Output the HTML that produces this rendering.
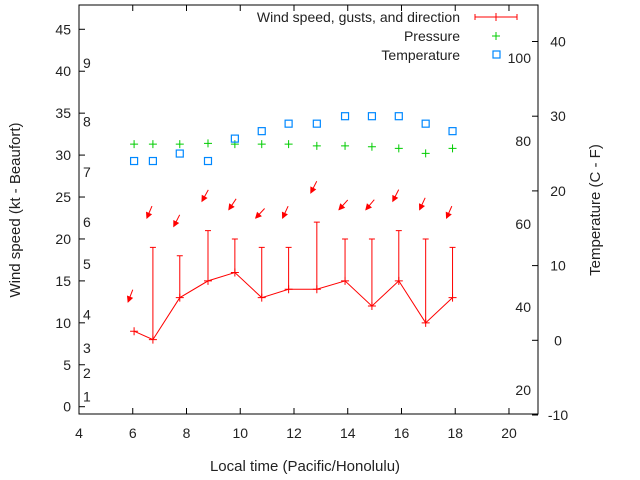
<!DOCTYPE html>
<html><head><meta charset="utf-8"><style>
body{margin:0;background:#fff}
svg{display:block;font-family:"Liberation Sans",sans-serif}
</style></head><body>
<svg id="chart" width="640" height="480" viewBox="0 0 640 480" xmlns="http://www.w3.org/2000/svg"></svg>
<script>
const times=[6.05,6.75,7.75,8.8,9.8,10.8,11.8,12.85,13.9,14.9,15.9,16.9,17.9];
const windSpeed=[9,8,13,15,16,13,14,14,15,12,15,10,13];
const gusts=[null,19,18,21,20,19,19,22,20,20,21,20,19];
const windDir=[21,23,27,29,34,43,25,27,42,40,27,25,24];
const pressure=[31.3,31.3,31.3,31.4,31.3,31.3,31.3,31.1,31.1,31.0,30.8,30.2,30.8];
const tempC=[24,24,25,24,27,28,29,29,30,30,30,29,28];
const xTicks=[4,6,8,10,12,14,16,18,20];
const yTicks=[0,5,10,15,20,25,30,35,40,45];
const y2Ticks=[-10,0,10,20,30,40];
const beaufort=[1,2,3,4,5,6,7,8,9];
const beaufortKt=[1.2,4,7,11,17,22,28,34,41];
const fahrenheit=[20,40,60,80,100];

const L=79,R=538,T=5,B=414;
const x=v=>L+(v-4)*(R-L)/(21.08-4);
const y=v=>406.7-v*8.387;
const y2=v=>340.3-v*7.47;
const svg=document.getElementById('chart');
const NS='http://www.w3.org/2000/svg';
function el(tag,attrs,parent){const e=document.createElementNS(NS,tag);for(const k in attrs)e.setAttribute(k,attrs[k]);(parent||svg).appendChild(e);return e;}
function txt(s,a,p){const e=el('text',a,p);e.textContent=s;return e;}

const frame=el('rect',{x:L,y:T,width:R-L,height:B-T,fill:'none',stroke:'#000','stroke-width':1});



const ax=el('g',{'font-size':14,fill:'#222'});


xTicks.forEach(t=>{
  const px=x(t);
  el('line',{x1:px,y1:B,x2:px,y2:B-6,stroke:'#000'},ax);
  el('line',{x1:px,y1:T,x2:px,y2:T+6,stroke:'#000'},ax);
  const e=txt(String(t),{x:px,y:B+24,'text-anchor':'middle'},ax);
  
  
});
yTicks.forEach(t=>{
  const py=y(t);
  el('line',{x1:L,y1:py,x2:L+6,y2:py,stroke:'#000'},ax);
  const e=txt(String(t),{x:L-8,y:py+5,'text-anchor':'end'},ax);
  
  
});
y2Ticks.forEach(t=>{
  const py=y2(t);
  el('line',{x1:R,y1:py,x2:R-6,y2:py,stroke:'#000'},ax);
  const e=txt(String(t),{x:R+20,y:py+5,'text-anchor':'middle'},ax);
  
  
});
beaufort.forEach((b,i)=>{
  const e=txt(String(b),{x:83,y:y(beaufortKt[i])+5},ax);
  
  
});
fahrenheit.forEach(f=>{
  const e=txt(String(f),{x:531,y:y2((f-32)*5/9)+5,'text-anchor':'end'},ax);
  
  
});
let t1=txt('Local time (Pacific/Honolulu)',{x:305,y:471,'text-anchor':'middle','font-size':15},ax);

let t2=txt('Wind speed (kt - Beaufort)',{x:20,y:210,'text-anchor':'middle','font-size':15,transform:'rotate(-90 20 210)'},ax);

let t3=txt('Temperature (C - F)',{x:600,y:210,'text-anchor':'middle','font-size':15,transform:'rotate(-90 600 210)'},ax);


const wg=el('g',{stroke:'#f00','stroke-width':1,fill:'none'});


el('polyline',{points:times.map((t,i)=>x(t)+','+y(windSpeed[i])).join(' ')},wg);
times.forEach((t,i)=>{
  const px=x(t),py=y(windSpeed[i]);
  el('path',{d:`M${px-4},${py}H${px+4}M${px},${py-4}V${py+4}`},wg);
  if(gusts[i]!=null){
    const gy=y(gusts[i]);
    const b=el('path',{d:`M${px},${py}V${gy}M${px-3},${gy}H${px+3}`},wg);
    
    
  }
  const top=gusts[i]!=null?gusts[i]:windSpeed[i];
  const hx=px-6,hy=y(top+3.5);
  const a=windDir[i]*Math.PI/180;
  const ux=Math.sin(a),uy=-Math.cos(a);
  const tx=hx+13*ux,ty=hy+13*uy;
  const g=el('g',{},wg);
  
  
  el('line',{x1:tx,y1:ty,x2:hx,y2:hy},g);
  const px1=-uy,py1=ux;
  el('polygon',{points:`${hx},${hy} ${hx+5*ux+2.5*px1},${hy+5*uy+2.5*py1} ${hx+5*ux-2.5*px1},${hy+5*uy-2.5*py1}`,fill:'#f00'},g);
});

const pg=el('g',{stroke:'#0c0','stroke-width':1});


times.forEach((t,i)=>{
  const px=x(t),py=y(pressure[i]);
  el('path',{d:`M${px-4},${py}H${px+4}M${px},${py-4}V${py+4}`},pg);
});
const tg=el('g',{stroke:'#08f','stroke-width':1.2,fill:'none'});


times.forEach((t,i)=>{
  const px=x(t),py=y2(tempC[i]);
  el('rect',{x:px-3.5,y:py-3.5,width:7,height:7},tg);
});

const lg=el('g',{'font-size':14,fill:'#222'});


txt('Wind speed, gusts, and direction',{x:460,y:22,'text-anchor':'end'},lg);
el('path',{d:'M475,17H517M475,14V20M517,14V20M496,13V21',stroke:'#f00',fill:'none'},lg);
txt('Pressure',{x:460,y:41,'text-anchor':'end'},lg);
el('path',{d:'M492,36H500M496,32V40',stroke:'#0c0'},lg);
txt('Temperature',{x:460,y:60,'text-anchor':'end'},lg);
el('rect',{x:493,y:51,width:7,height:7,stroke:'#08f',fill:'none','stroke-width':1.2},lg);
</script>
</body></html>
